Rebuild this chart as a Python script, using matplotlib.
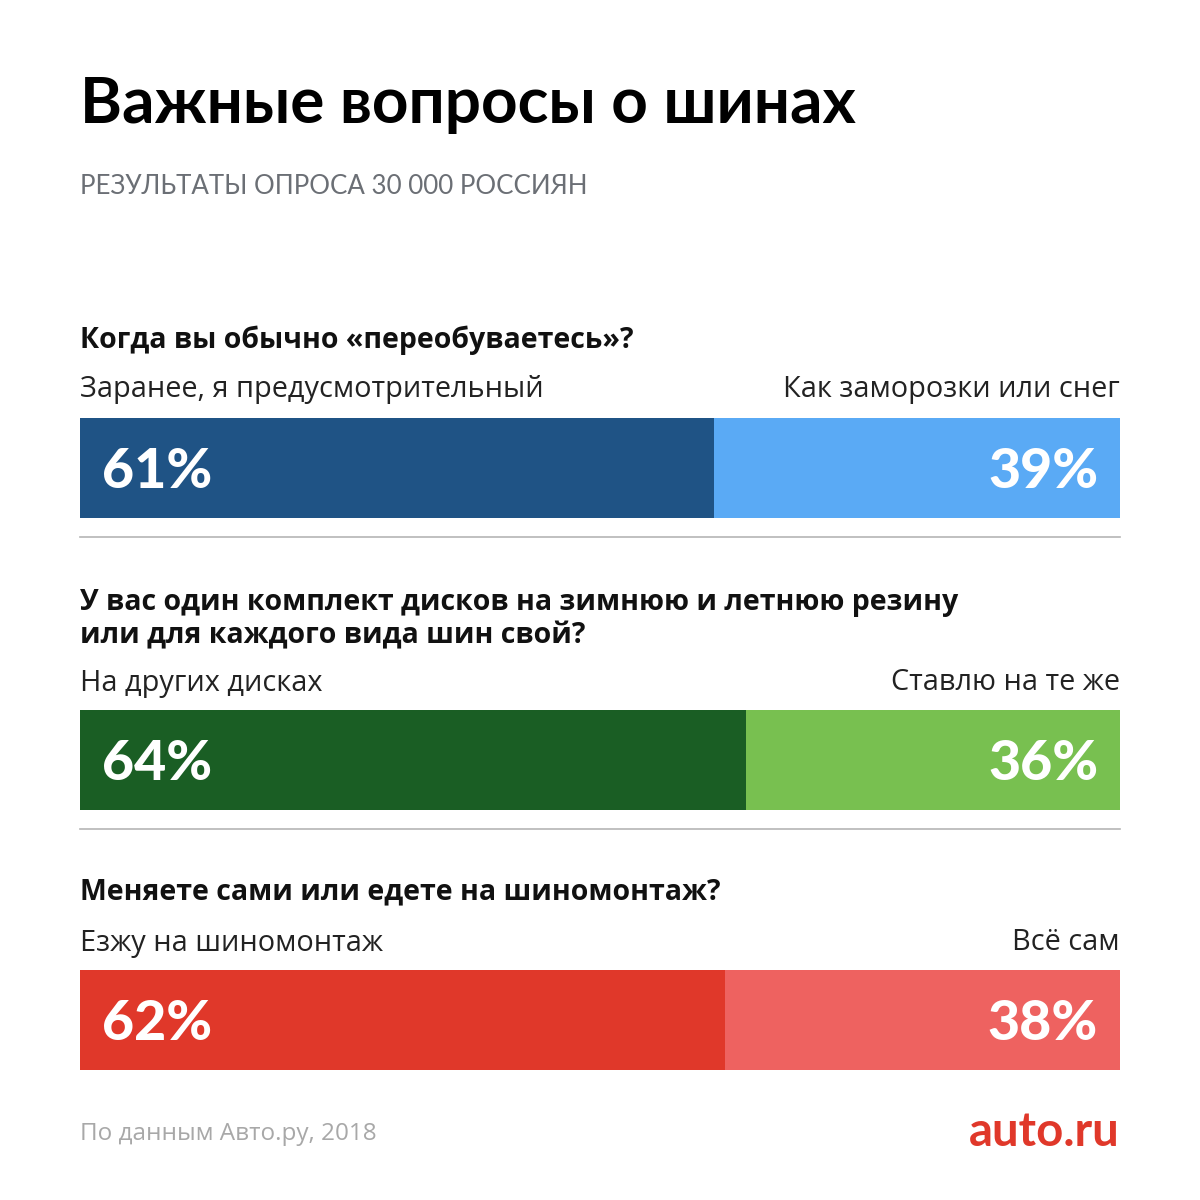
import matplotlib
matplotlib.use("Agg")
import matplotlib.pyplot as plt

title = "Важные вопросы о шинах"
subtitle = "РЕЗУЛЬТАТЫ ОПРОСА 30 000 РОССИЯН"
questions = [
    "Когда вы обычно «переобуваетесь»?",
    "У вас один комплект дисков на зимнюю и летнюю резину\nили для каждого вида шин свой?",
    "Меняете сами или едете на шиномонтаж?",
]
left_labels = ["Заранее, я предусмотрительный", "На других дисках", "Езжу на шиномонтаж"]
right_labels = ["Как заморозки или снег", "Ставлю на те же", "Всё сам"]
left_values = [61, 64, 62]
right_values = [39, 36, 38]
left_colors = ["#1F5385", "#1A5E24", "#E0382A"]
right_colors = ["#5AAAF5", "#78C050", "#EE6260"]
source = "По данным Авто.ру, 2018"
brand = "auto.ru"

FONT = "Lato"
FONT2 = "Open Sans"
W = H = 1200
fig = plt.figure(figsize=(12, 12), dpi=100)
bg = fig.add_axes([0, 0, 1, 1])
bg.set_xlim(0, W)
bg.set_ylim(H, 0)
bg.axis("off")

def fx(px):
    return px / W

def fy(py):
    return 1 - py / H

bg.text(80, 106, title, fontsize=46, fontweight="bold", family=FONT, color="#000000", va="center", ha="left")
bg.text(80, 187, subtitle, fontsize=18.6, family=FONT, color="#6b6f75", va="center", ha="left")

q_y = [340, 619, 892]
lab_y = [390, 683, 943]
bar_top = [418, 710, 970]
bar_h = 100
sep_y = [537, 829]

for i in range(3):
    bg.text(80, q_y[i], questions[i], fontsize=20.5, fontweight="bold", family=FONT2,
            color="#111111", va="center", ha="left", linespacing=1.2)
    bg.text(80, lab_y[i], left_labels[i], fontsize=20.8, family=FONT2, color="#222222", va="center", ha="left")
    bg.text(1120, lab_y[i], right_labels[i], fontsize=20.8, family=FONT2, color="#222222", va="center", ha="right")
    ax = fig.add_axes([fx(80), fy(bar_top[i] + bar_h), fx(1040), bar_h / H])
    ax.barh([0], [left_values[i]], left=0, height=1, color=left_colors[i])
    ax.barh([0], [right_values[i]], left=left_values[i], height=1, color=right_colors[i])
    ax.set_xlim(0, 100)
    ax.set_ylim(-0.5, 0.5)
    ax.axis("off")
    ax.text(2.1, -0.04, f"{left_values[i]}%", fontsize=40, fontweight=900, family=FONT,
            color="white", va="center", ha="left")
    ax.text(97.9, -0.04, f"{right_values[i]}%", fontsize=40, fontweight=900, family=FONT,
            color="white", va="center", ha="right")

for y in sep_y:
    bg.plot([80, 1120], [y, y], color="#b5b5b5", lw=1.2)

bg.text(80, 1134, source, fontsize=17.5, family=FONT2, color="#a8a8a8", va="center", ha="left")
bg.text(1120, 1132, brand, fontsize=34, fontweight="bold", family=FONT, color="#E0382A", va="center", ha="right")

fig.savefig("out.png", dpi=100, facecolor="white")
